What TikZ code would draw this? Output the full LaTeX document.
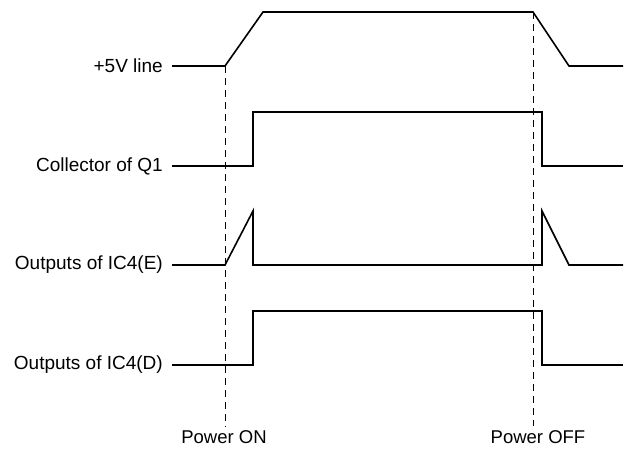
\documentclass[tikz,border=0pt]{standalone}
\usepackage{fontspec}
\setmainfont{Liberation Sans}
\usepackage{tikz}
\usetikzlibrary{calc}

\begin{document}
\begin{tikzpicture}[x=1pt, y=-1pt,
  sig/.style={draw=black, line width=1.6pt, line join=miter},
  marker/.style={draw=black, line width=0.9pt, dash pattern=on 7pt off 5pt},
  lbl/.style={anchor=east, inner sep=0pt, font=\fontsize{19}{22}\selectfont},
  event/.style={inner sep=4pt, font=\fontsize{18.5}{22}\selectfont}]

  \useasboundingbox (0,0) rectangle (634,450);

  % ---- Signal Labels ----
  \node[lbl] (vcc)  at (163,66)  {+5V line};
  \node[lbl] (coll) at (163,166) {Collector of Q1};
  \node[lbl] (ice)  at (163,265) {Outputs of IC4(E)};
  \node[lbl] (icd)  at (163,365) {Outputs of IC4(D)};

  % ---- Event Labels ----
  \node[event] (pon)  at (224,437) {Power ON};
  \node[event] (poff) at (538,437) {Power OFF};

  % ---- Waveforms ----
  % +5V line
  \draw[sig] ([xshift=9]vcc.east) -- (225,66) coordinate (von)
    -- (263,12) -- (533,12) coordinate (voff) -- (569,66) -- (623,66);

  % Collector of Q1
  \draw[sig] ([xshift=9]coll.east) -- (253,166) -- (253,112)
    -- (542,112) -- (542,166) -- (623,166);

  % IC4(E)
  \draw[sig] ([xshift=9]ice.east) -- (225,265) -- (253,211) -- (253,265)
    -- (542,265) -- (542,211) -- (569,265) -- (623,265);

  % IC4(D)
  \draw[sig] ([xshift=9]icd.east) -- (253,365) -- (253,311)
    -- (542,311) -- (542,365) -- (623,365);

  % ---- Event Markers ----
  \draw[marker] (von) -- (von |- pon.north);
  \draw[marker] (voff) -- (voff |- poff.north);

\end{tikzpicture}
\end{document}
